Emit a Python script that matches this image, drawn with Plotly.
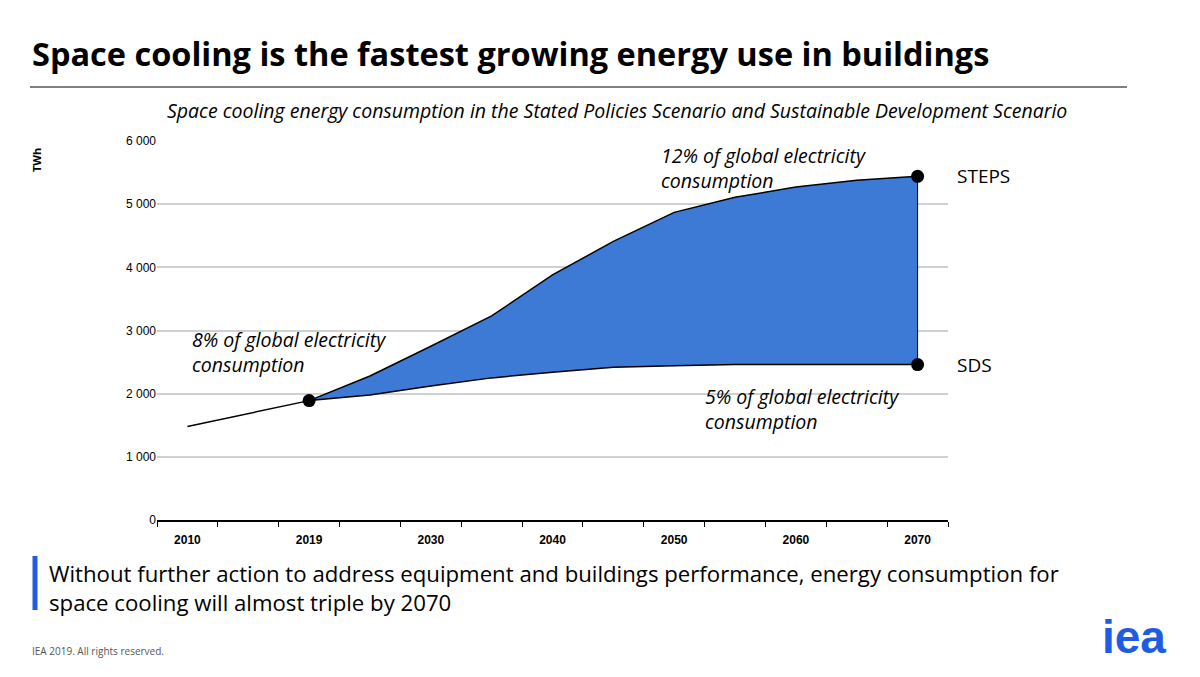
import plotly.graph_objects as go

years = ["2010","2015","2019","2025","2030","2035","2040","2045","2050","2055","2060","2065","2070"]
steps = [1480,1680,1890,2280,2750,3230,3880,4410,4870,5110,5270,5380,5440]
sds = [None,None,1890,1980,2120,2250,2340,2420,2440,2460,2460,2460,2460]
label_years = ["2010","2019","2030","2040","2050","2060","2070"]
yticks = [0,1000,2000,3000,4000,5000,6000]
ytick_text = ["0","1 000","2 000","3 000","4 000","5 000","6 000"]

OFF = 8
L, R, T, B = 157 - OFF, 948 - OFF, 141 - OFF, 520 - OFF
def px(x): return (x - OFF - L) / (R - L)
def py(y): return (B - (y - OFF)) / (B - T)

idx = list(range(len(years)))
si = [i for i in idx if sds[i] is not None]
fig = go.Figure()
fig.add_trace(go.Scatter(x=si, y=[sds[i] for i in si], mode="lines", line=dict(color="black", width=1.5)))
fig.add_trace(go.Scatter(x=si, y=[steps[i] for i in si], mode="lines", fill="tonexty",
                         fillcolor="#3d7ad6", line=dict(color="black", width=1.5)))
fig.add_trace(go.Scatter(x=idx[:3], y=steps[:3], mode="lines", line=dict(color="black", width=1.5)))
fig.add_trace(go.Scatter(x=[si[-1], si[-1]], y=[sds[si[-1]], steps[si[-1]]], mode="lines",
                         line=dict(color="black", width=1)))
fig.add_trace(go.Scatter(x=[si[0], si[-1], si[-1]], y=[steps[si[0]], steps[si[-1]], sds[si[-1]]],
                         mode="markers", marker=dict(color="black", size=13)))

f = "Open Sans"
fig.update_layout(
    width=1200, height=677, showlegend=False, plot_bgcolor="white", paper_bgcolor="white",
    margin=dict(l=L, r=1200 - R, t=T, b=677 - B, autoexpand=False), font=dict(family=f, color="black"),
    xaxis=dict(range=[-0.5, 12.5], tickvals=[years.index(y) for y in label_years], ticktext=label_years,
               ticks="", showgrid=False, showline=True, linecolor="black", linewidth=1.5,
               ticklabelstandoff=8,
               tickfont=dict(size=12, family="Arial", color="black", weight="bold"),
               minor=dict(tickvals=[i - 0.5 for i in range(14)], ticks="outside", ticklen=5,
                          tickcolor="black", showgrid=False), zeroline=False),
    yaxis=dict(range=[0, 6000], tickvals=yticks, ticktext=ytick_text, showgrid=True,
               gridcolor="#d0d0d0", gridwidth=1.5, zeroline=False,
               tickfont=dict(size=12, family="Arial", color="black"), ticklen=0, ticks=""),
)
ann = [
    (30, 53, "<b>Space cooling is the fastest growing energy use in buildings</b>", 32.5, "left", {}),
    (617, 110, "<i>Space cooling energy consumption in the Stated Policies Scenario and Sustainable Development Scenario</i>", 19.5, "center", {}),
    (36, 160, "<b>TWh</b>", 11, "center", dict(textangle=-90)),
    (47, 588, "Without further action to address equipment and buildings performance, energy consumption for<br>space cooling will almost triple by 2070", 22.2, "left", {}),
    (30, 651, "IEA 2019. All rights reserved.", 10, "left", dict(color="#555")),
    (1168, 637, "<b>iea</b>", 46, "right", dict(color="#1f5ce6", family="Arial")),
]
for x, y, t, s, xa, o in ann:
    fig.add_annotation(xref="paper", yref="paper", x=px(x), y=py(y), text=t, showarrow=False,
                       xanchor=xa, yanchor="middle", textangle=o.get("textangle", 0), align="left",
                       font=dict(size=s, family=o.get("family", f), color=o.get("color", "black")))
notes = [(1.67, 2660, "<i>8% of global electricity<br>consumption</i>"),
         (9.46, 5575, "<i>12% of global electricity<br>consumption</i>"),
         (10.1, 1755, "<i>5% of global electricity<br>consumption</i>")]
for x, y, t in notes:
    fig.add_annotation(x=x, y=y, text=t, showarrow=False, xanchor="center", yanchor="middle", align="left",
                       font=dict(size=19.5, family=f))
fig.add_annotation(x=12, y=steps[-1], text="STEPS", showarrow=False, xanchor="left", xshift=37, font=dict(size=19, family=f))
fig.add_annotation(x=12, y=sds[-1], text="SDS", showarrow=False, xanchor="left", xshift=37, font=dict(size=19, family=f))
fig.add_shape(type="line", xref="paper", yref="paper", x0=px(30), x1=px(1127), y0=py(87), y1=py(87), line=dict(color="black", width=1))
fig.add_shape(type="line", xref="paper", yref="paper", x0=px(35), x1=px(35), y0=py(556), y1=py(610), line=dict(color="#1f5ce6", width=5))
fig.write_html("out.html")
